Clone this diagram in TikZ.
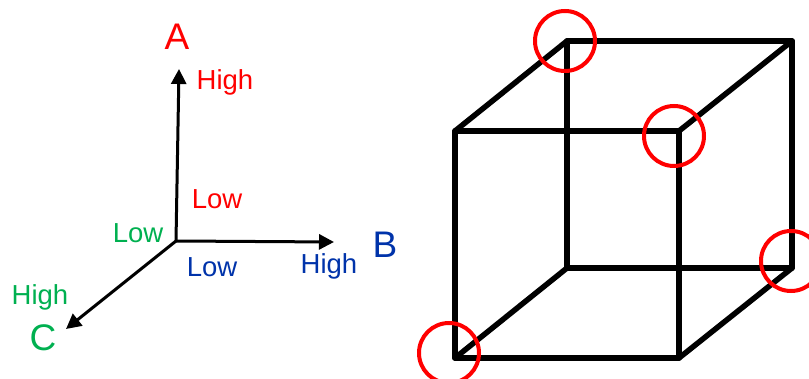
\documentclass[tikz,border=0pt]{standalone}
\usepackage{fontspec}
\setmainfont{Liberation Sans}
\usetikzlibrary{arrows.meta}

\definecolor{axred}{RGB}{255,0,0}
\definecolor{axblue}{RGB}{0,51,170}
\definecolor{axgreen}{RGB}{0,176,80}

\tikzset{
  axis/.style={line width=3pt, -{Triangle[length=15pt,width=15pt]}},
  edge/.style={line width=5.5pt, line cap=round, line join=round},
  mark ring/.style={draw=axred, line width=4pt, circle, minimum size=60pt, inner sep=0pt},
  word/.style={inner sep=0pt, font=\fontsize{27.5}{30}\selectfont},
  letter/.style={inner sep=0pt, font=\fontsize{37}{40}\selectfont}
}

\begin{document}
\begin{tikzpicture}[x=1pt, y=-1pt]
        \useasboundingbox (0,0) rectangle (809,379);

        % axes
        \coordinate (o)  at (176, 241);
        \coordinate (ta) at (179, 69);
        \coordinate (tb) at (334, 242);
        \coordinate (tc) at (66, 329);

        \draw[axis] (o) -- (ta);
        \draw[axis] (o) -- (tb);
        \draw[axis] (o) -- (tc);

        \node (la)  at (177, 37)  [letter, text=axred] {A};
        \node (lb)  at (385, 245) [letter, text=axblue] {B};
        \node (lc)  at (43, 338)  [letter, text=axgreen] {C};
        \node (ah)  at (225, 82)  [word, text=axred] {High};
        \node (al)  at (217, 199) [word, text=axred] {Low};
        \node (bh)  at (329, 266) [word, text=axblue] {High};
        \node (bl)  at (212, 267) [word, text=axblue] {Low};
        \node (ch)  at (40, 297)  [word, text=axgreen] {High};
        \node (cl)  at (138, 233) [word, text=axgreen] {Low};

        % cube
        \coordinate (f1) at (455, 131);
        \coordinate (f2) at (679, 131);
        \coordinate (f3) at (679, 358);
        \coordinate (f4) at (455, 358);
        \coordinate (b1) at (567, 41);
        \coordinate (b2) at (792, 41);
        \coordinate (b3) at (792, 268);
        \coordinate (b4) at (567, 268);

        \draw[edge] (f1) -- (f2) -- (f3) -- (f4) -- cycle;
        \draw[edge] (b1) -- (b2) -- (b3) -- (b4) -- cycle;
        \draw[edge] (f1) -- (b1);
        \draw[edge] (f2) -- (b2);
        \draw[edge] (f3) -- (b3);
        \draw[edge] (f4) -- (b4);

        \node (r1) at (565, 41)  [mark ring] {};
        \node (r2) at (674, 136) [mark ring] {};
        \node (r3) at (791, 261) [mark ring] {};
        \node (r4) at (449, 353) [mark ring] {};
    \end{tikzpicture}
\end{document}
